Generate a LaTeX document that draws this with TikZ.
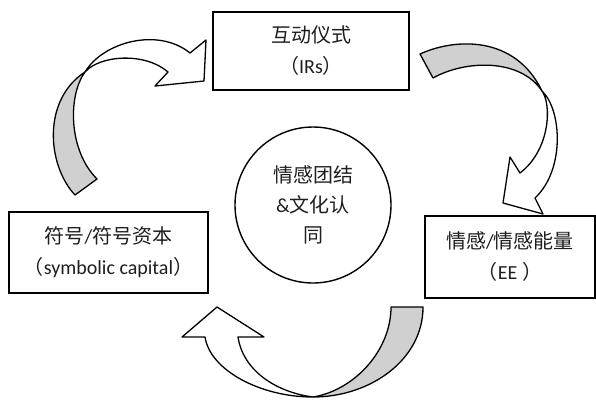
\documentclass[tikz,border=0pt]{standalone}
\usepackage{fontspec}
\setmainfont{Carlito}
\newfontfamily\cjk{Noto Sans CJK SC}
\definecolor{bandgray}{RGB}{208,208,208}
\definecolor{inkc}{RGB}{30,30,30}
\begin{document}
\begin{tikzpicture}[x=1pt,y=-1pt,
  box/.style={draw, line width=1.8pt, inner sep=0pt, align=center, text=inkc,
    font=\fontsize{20}{31}\selectfont},
  arr/.style={draw, line width=1.3pt, line join=round, fill=white},
  back/.style={arr, fill=bandgray}]
\useasboundingbox (0,0) rectangle (596,400);
% boxes
\node[box, minimum width=196pt, minimum height=78pt] (irs) at (311,51)
  {{\cjk 互动仪式}\\{\cjk （}IRs{\cjk ）}};
\node[box, minimum width=199pt, minimum height=81pt] (sym) at (108.5,252.5)
  {{\cjk 符号}/{\cjk 符号资本}\\{\cjk （}symbolic capital{\cjk ）}};
\node[box, minimum width=170pt, minimum height=82pt] (ee) at (510,257)
  {{\cjk 情感}/{\cjk 情感能量}\\{\cjk （}EE {\cjk ）}};
\node[draw, circle, line width=1.4pt, minimum size=156pt, inner sep=0pt, align=center,
  text=inkc, font=\fontsize{20}{30}\selectfont] (core) at (313,205)
  {{\cjk 情感团结}\\\&{\cjk 文化认}\\{\cjk 同}};
% top-left curved arrow
\draw[back] (75,195) .. controls (47,165) and (42,100) .. (85,72)
  .. controls (68,95) and (68,150) .. (97,179) -- cycle;
\draw[arr] (85,72) .. controls (103,42) and (158,27) .. (190,53) -- (206,40)
  -- (204,81) -- (155,86) -- (168,72) .. controls (145,52) and (100,55) .. (85,72) -- cycle;
% top-right curved arrow
\draw[back] (420,54) .. controls (455,38) and (515,35) .. (542,91)
  .. controls (520,58) and (465,60) .. (433,78) -- cycle;
\draw[arr] (542,91) .. controls (562,110) and (565,170) .. (535,198) -- (543,214)
  -- (503,203) -- (510,157) -- (520,173) .. controls (550,150) and (552,105) .. (542,91) -- cycle;
% bottom curved arrow
\draw[back] (423,307) .. controls (423,360) and (370,397) .. (313,397)
  .. controls (355,390) and (391,350) .. (391,307) -- cycle;
\draw[arr] (313,397) .. controls (260,397) and (210,370) .. (205,337) -- (182,337)
  -- (217,307) -- (264,337) -- (238,337) .. controls (243,370) and (275,392) .. (313,397) -- cycle;
\end{tikzpicture}
\end{document}
